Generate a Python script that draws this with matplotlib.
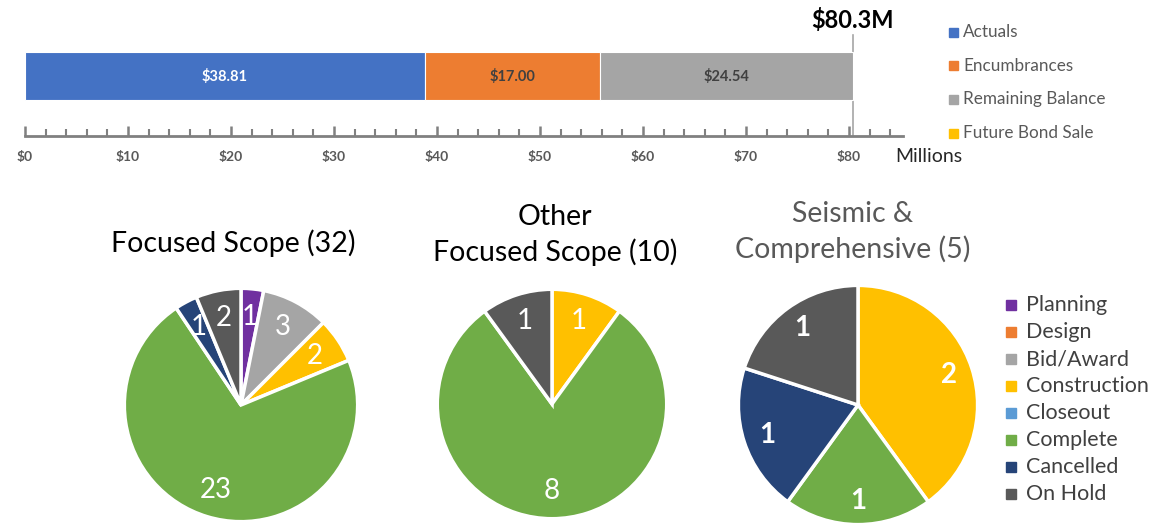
import matplotlib.pyplot as plt
import numpy as np
from matplotlib.patches import Rectangle

plt.rcParams['font.family'] = ['Lato', 'DejaVu Sans']

# ---------------- data ----------------
budget_categories = ['Actuals', 'Encumbrances', 'Remaining Balance', 'Future Bond Sale']
budget_values = [38.81, 17.00, 24.54, 0.0]
budget_total_label = '$80.3M'
x_ticks = [0, 10, 20, 30, 40, 50, 60, 70, 80]
x_tick_labels = ['$0', '$10', '$20', '$30', '$40', '$50', '$60', '$70', '$80']
x_unit_label = 'Millions'

status_categories = ['Planning', 'Design', 'Bid/Award', 'Construction',
                     'Closeout', 'Complete', 'Cancelled', 'On Hold']
focused_counts = [1, 0, 3, 2, 0, 23, 1, 2]
other_counts = [0, 0, 0, 1, 0, 8, 0, 1]
seismic_counts = [0, 0, 0, 2, 0, 1, 1, 1]
pie_titles = ['Focused Scope (32)', 'Other\nFocused Scope (10)', 'Seismic &\nComprehensive (5)']

# ---------------- style ----------------
budget_colors = ['#4472C4', '#ED7D31', '#A5A5A5', '#FFC000']
budget_label_colors = ['white', '#404040', '#404040', '#404040']
status_colors = ['#7030A0', '#ED7D31', '#A5A5A5', '#FFC000',
                 '#5B9BD5', '#70AD47', '#264478', '#595959']

W, H = 1165, 526
fig = plt.figure(figsize=(W / 100, H / 100), dpi=100)


def px_axes(x0, y0, x1, y1):
    return fig.add_axes([x0 / W, 1 - y1 / H, (x1 - x0) / W, (y1 - y0) / H])


def fx(x):
    return x / W


def fy(y):
    return 1 - y / H


# ---------------- bar chart ----------------
ax = px_axes(25, 20, 903, 136)
ax.set_xlim(0, (903 - 25) / 10.3)
ax.set_ylim(0, 1)
left = 0
bar_y, bar_h = 0.517, 0.414
for v, c, lc in zip(budget_values, budget_colors, budget_label_colors):
    if v > 0:
        ax.barh(bar_y, v, left=left, height=bar_h, color=c, edgecolor='white', linewidth=0.8)
        ax.text(left + v / 2, bar_y, f'${v:.2f}', ha='center', va='center',
                fontsize=10.5, fontweight='bold', color=lc)
    left += v
total = sum(budget_values)
ax.plot([total, total], [0, 0.87], color='#a6a6a6', lw=1.2, clip_on=False, zorder=0)
ax.text(total, 1.0, budget_total_label, ha='center', va='center', fontsize=17,
        fontweight='bold', color='black', clip_on=False)
for s in ['top', 'left', 'right']:
    ax.spines[s].set_visible(False)
ax.spines['bottom'].set_color('#808080')
ax.spines['bottom'].set_linewidth(2)
ax.set_yticks([])
ax.set_xticks(x_ticks)
ax.set_xticklabels(x_tick_labels)
ax.set_xticks(np.arange(0, 86, 2), minor=True)
ax.tick_params(axis='x', which='major', direction='in', length=7, width=1.8,
               color='#808080', labelsize=10, labelcolor='#595959', pad=11)
ax.tick_params(axis='x', which='minor', direction='in', length=5, width=1.5, color='#808080')
for t in ax.get_xticklabels():
    t.set_fontweight('bold')
fig.text(fx(895), fy(157), x_unit_label, ha='left', va='center', fontsize=14, color='#262626')

# top legend
for i, (cat, c) in enumerate(zip(budget_categories, budget_colors)):
    y = 32 + i * 33.7
    fig.patches.append(Rectangle((fx(949), fy(y + 4.5)), 9 / W, 9 / H, color=c,
                                 transform=fig.transFigure, figure=fig))
    fig.text(fx(963), fy(y), cat, ha='left', va='center', fontsize=12.3, color='#595959')

# ---------------- pies ----------------
pie_specs = [
    (focused_counts, 241, 405, 119, 'normal', 0.76),
    (other_counts, 552, 404, 117, 'normal', 0.76),
    (seismic_counts, 858, 405, 122, 'bold', 0.8),
]
for counts, cx, cy, r, fw, ldist in pie_specs:
    pax = px_axes(cx - r, cy - r, cx + r, cy + r)
    vals = [v for v in counts if v > 0]
    cols = [c for v, c in zip(counts, status_colors) if v > 0]
    wedges, _ = pax.pie(vals, colors=cols, startangle=90, counterclock=False, radius=1,
                        wedgeprops=dict(edgecolor='white', linewidth=2.5))
    for w, v in zip(wedges, vals):
        ang = np.deg2rad((w.theta1 + w.theta2) / 2)
        pax.text(ldist * np.cos(ang), ldist * np.sin(ang), str(v), ha='center', va='center',
                 fontsize=20, color='white', fontweight=fw)
    pax.set_xlim(-1.02, 1.02)
    pax.set_ylim(-1.02, 1.02)
    pax.set_aspect('equal')
    pax.axis('off')

fig.text(fx(233), fy(243), pie_titles[0], ha='center', va='center', fontsize=20.5, color='black')
fig.text(fx(555), fy(235), pie_titles[1], ha='center', va='center', fontsize=20.5,
         color='black', linespacing=1.4)
fig.text(fx(853), fy(232), pie_titles[2], ha='center', va='center', fontsize=20.5,
         color='#595959', linespacing=1.4)

# pie legend
for i, (cat, c) in enumerate(zip(status_categories, status_colors)):
    y = 305 + i * 27
    fig.patches.append(Rectangle((fx(1006), fy(y + 5)), 10 / W, 10 / H, color=c,
                                 transform=fig.transFigure, figure=fig))
    fig.text(fx(1026), fy(y), cat, ha='left', va='center', fontsize=15.5, color='#404040')

fig.savefig('out.png', dpi=100)
